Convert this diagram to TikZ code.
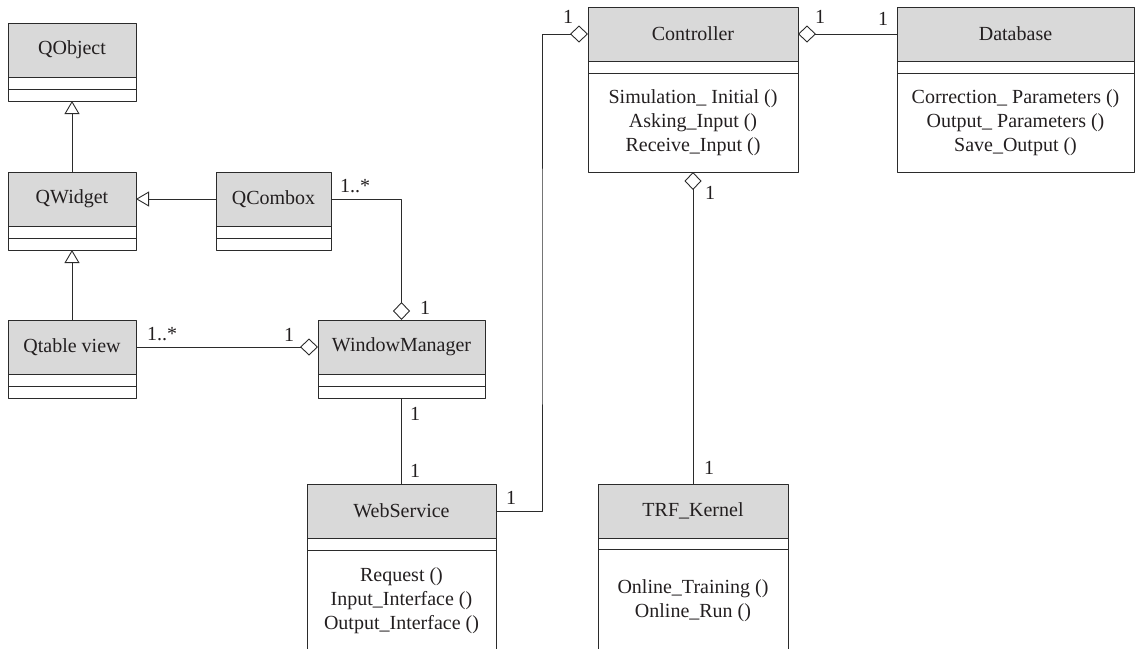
\documentclass[tikz,border=0pt]{standalone}
\usepackage{fontspec}
\setmainfont{Liberation Serif}
\usetikzlibrary{positioning,arrows.meta}
\definecolor{headgray}{HTML}{D9D9D9}
\definecolor{linegray}{HTML}{2B2B2B}
\definecolor{textgray}{HTML}{231F20}
\begin{document}
\begin{tikzpicture}[x=1pt,y=-1pt,line width=0.9pt,line join=round,draw=linegray,text=textgray,
	font=\fontsize{20}{24}\selectfont,
	head/.style={draw=linegray,fill=headgray,minimum height=54pt,inner sep=0pt,outer sep=0pt,anchor=north west},
	attr/.style={draw=linegray,minimum height=12pt,inner sep=0pt,outer sep=0pt},
	meth/.style={draw=linegray,align=center,inner sep=0pt,outer sep=0pt},
	mult/.style={inner sep=0pt},
	inherit/.style={-{Triangle[open,length=13pt,width=15pt]}},
	agg/.style={-{Diamond[open,length=18pt,width=17pt]}}]
	\useasboundingbox (0,0) rectangle (1135,648);
	\node [head,minimum width=128pt] (qobject) at (8,23) {QObject};
	\node [attr,minimum width=128pt,below=0pt of qobject] (qobjecta) {};
	\node [attr,minimum width=128pt,below=0pt of qobjecta] (qobjectm) {};
	\node [head,minimum width=128pt] (qwidget) at (8,172) {QWidget};
	\node [attr,minimum width=128pt,below=0pt of qwidget] (qwidgeta) {};
	\node [attr,minimum width=128pt,below=0pt of qwidgeta] (qwidgetm) {};
	\node [head,minimum width=128pt] (qtable) at (8,320) {Qtable view};
	\node [attr,minimum width=128pt,below=0pt of qtable] (qtablea) {};
	\node [attr,minimum width=128pt,below=0pt of qtablea] (qtablem) {};
	\node [head,minimum width=115pt] (qcombox) at (216,172) {QCombox};
	\node [attr,minimum width=115pt,below=0pt of qcombox] (qcomboxa) {};
	\node [attr,minimum width=115pt,below=0pt of qcomboxa] (qcomboxm) {};
	\node [head,minimum width=167pt] (wm) at (318,320) {WindowManager};
	\node [attr,minimum width=167pt,below=0pt of wm] (wma) {};
	\node [attr,minimum width=167pt,below=0pt of wma] (wmm) {};
	\node [head,minimum width=189pt] (websvc) at (307,484) {WebService};
	\node [attr,minimum width=189pt,below=0pt of websvc] (websvca) {};
	\node [meth,minimum width=189pt,minimum height=102pt,below=0pt of websvca] (websvcm) {Request ()\\Input\_Interface ()\\Output\_Interface ()};
	\node [head,minimum width=210pt] (ctrl) at (588,7) {Controller};
	\node [attr,minimum width=210pt,below=0pt of ctrl] (ctrla) {};
	\node [meth,minimum width=210pt,minimum height=99pt,below=0pt of ctrla] (ctrlm) {Simulation\_ Initial ()\\Asking\_Input ()\\Receive\_Input ()};
	\node [head,minimum width=237pt] (dbase) at (897,7) {Database};
	\node [attr,minimum width=237pt,below=0pt of dbase] (dbasea) {};
	\node [meth,minimum width=237pt,minimum height=99pt,below=0pt of dbasea] (dbasem) {Correction\_ Parameters ()\\Output\_ Parameters ()\\Save\_Output ()};
	\node [head,minimum width=190pt] (trf) at (598,484) {TRF\_Kernel};
	\node [attr,minimum width=190pt,minimum height=11pt,below=0pt of trf] (trfa) {};
	\node [meth,minimum width=190pt,minimum height=103pt,below=0pt of trfa] (trfm) {Online\_Training ()\\Online\_Run ()};
	\coordinate (cbend) at (542,300);
	\draw [inherit] (qwidget.north) -- (qobjectm.south);
	\draw [inherit] (qtable.north) -- (qwidgetm.south);
	\draw [inherit] (qcombox.west) -- (qwidget.east);
	\draw [agg] (qcombox.east) -| (wm.north);
	\draw [agg] (qtable.east) -- (wm.west);
	\draw (wmm.south) -- (websvc.north);
	\draw [agg] (websvc.east) -| (cbend) |- (ctrl.west);
	\draw [agg] (dbase.west) -- (ctrl.east);
	\draw [agg] (trf.north) -- (ctrlm.south);
	\node [mult] (mcombox) at (355,186) {1..*};
	\node [mult] (mwmtop) at (425,308) {1};
	\node [mult] (mtable) at (162,334) {1..*};
	\node [mult] (mwmleft) at (289,335) {1};
	\node [mult] (mwmbot) at (415,414) {1};
	\node [mult] (mwebtop) at (415,471) {1};
	\node [mult] (mwebright) at (511,498) {1};
	\node [mult] (mctrlleft) at (568,17) {1};
	\node [mult] (mctrlright) at (820,17) {1};
	\node [mult] (mdbase) at (883,19) {1};
	\node [mult] (mctrlbot) at (710,193) {1};
	\node [mult] (mtrf) at (709,468) {1};
\end{tikzpicture}
\end{document}
